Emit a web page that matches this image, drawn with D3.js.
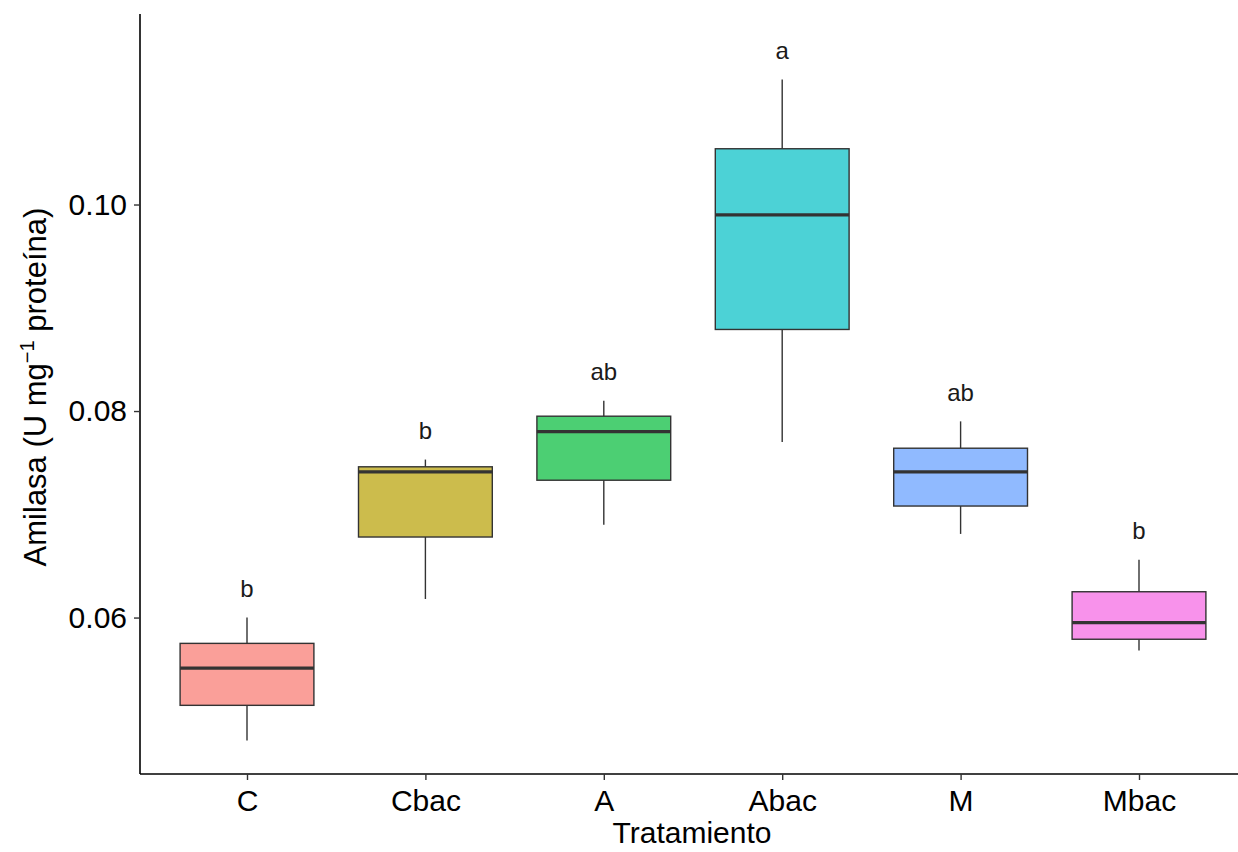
<!DOCTYPE html>
<html>
<head>
<meta charset="utf-8">
<script src="https://cdn.jsdelivr.net/npm/d3@7"></script>
<style>
  html, body { margin: 0; padding: 0; background: #ffffff; }
  svg { display: block; font-family: "Liberation Sans", Arial, sans-serif; }
</style>
</head>
<body>
<svg id="chart" width="1238" height="852"></svg>
<script>
// Treatments and their box-plot summaries (amylase activity, U mg^-1 protein)
const categories = ["C", "Cbac", "A", "Abac", "M", "Mbac"];
const whiskerLow = [0.0481, 0.0618, 0.0690, 0.0770, 0.0681, 0.0568];
const q1         = [0.0515, 0.0678, 0.0733, 0.0879, 0.0708, 0.0579];
const median     = [0.0551, 0.0741, 0.0780, 0.0990, 0.0741, 0.0595];
const q3         = [0.0575, 0.0746, 0.0795, 0.1054, 0.0764, 0.0625];
const whiskerHigh= [0.0600, 0.0753, 0.0810, 0.1121, 0.0790, 0.0656];
const letters    = ["b", "b", "ab", "a", "ab", "b"];
const fills      = ["#F8766D", "#B79F00", "#00BA38", "#00BFC4", "#619CFF", "#F564E3"];
const yTicks     = [0.06, 0.08, 0.10];

const data = categories.map((c, i) => ({
  cat: c, lo: whiskerLow[i], q1: q1[i], med: median[i], q3: q3[i],
  hi: whiskerHigh[i], letter: letters[i], fill: fills[i]
}));

const svg = d3.select("#chart");
const panel = { left: 140, top: 14, right: 1246, bottom: 774 };

// Discrete x: categories spaced evenly, 0.6 units of padding at each end
const x = d3.scalePoint()
  .domain(categories)
  .range([panel.left + 107, panel.right - 107]);
const step = x.step();
const boxW = step * 0.75;

const y = d3.scaleLinear()
  .domain([0.04485, 0.11845])
  .range([panel.bottom, panel.top]);

const g = svg.append("g");

// Boxes
const box = g.selectAll("g.box").data(data).join("g").attr("class", "box");

box.append("line")
  .attr("x1", d => x(d.cat)).attr("x2", d => x(d.cat))
  .attr("y1", d => y(d.hi)).attr("y2", d => y(d.q3))
  .attr("stroke", "#333333").attr("stroke-width", 1.4);
box.append("line")
  .attr("x1", d => x(d.cat)).attr("x2", d => x(d.cat))
  .attr("y1", d => y(d.q1)).attr("y2", d => y(d.lo))
  .attr("stroke", "#333333").attr("stroke-width", 1.4);

box.append("rect")
  .attr("x", d => x(d.cat) - boxW / 2)
  .attr("width", boxW)
  .attr("y", d => y(d.q3))
  .attr("height", d => y(d.q1) - y(d.q3))
  .attr("fill", d => d.fill)
  .attr("fill-opacity", 0.7)
  .attr("stroke", "#333333")
  .attr("stroke-width", 1.4);

box.append("line")
  .attr("x1", d => x(d.cat) - boxW / 2).attr("x2", d => x(d.cat) + boxW / 2)
  .attr("y1", d => y(d.med)).attr("y2", d => y(d.med))
  .attr("stroke", "#333333").attr("stroke-width", 3.2);

// Significance letters above the upper whiskers
box.append("text")
  .attr("x", d => x(d.cat))
  .attr("y", d => y(d.hi + 0.002))
  .attr("text-anchor", "middle")
  .attr("font-size", 24)
  .attr("fill", "#1a1a1a")
  .text(d => d.letter);

// Axes
const xAxis = svg.append("g")
  .attr("transform", `translate(0,${panel.bottom})`)
  .call(d3.axisBottom(x).tickSize(6).tickPadding(10));
const yAxis = svg.append("g")
  .attr("transform", `translate(${panel.left},0)`)
  .call(d3.axisLeft(y).tickValues(yTicks).tickFormat(d3.format(".2f")).tickSize(6).tickPadding(7));

[xAxis, yAxis].forEach(a => {
  a.select(".domain").attr("stroke", "#000").attr("stroke-width", 1.6);
  a.selectAll(".tick line").attr("stroke", "#333333").attr("stroke-width", 1.4);
  a.selectAll(".tick text").attr("fill", "#000").attr("font-size", 30)
    .attr("font-family", "'Liberation Sans', Arial, sans-serif");
});
// Domain lines without end caps
xAxis.select(".domain").attr("d", `M${panel.left},0H${1238}`);
yAxis.select(".domain").attr("d", `M0,${panel.top}V${panel.bottom}`);

// Axis titles
svg.append("text")
  .attr("x", 692).attr("y", 843)
  .attr("text-anchor", "middle")
  .attr("font-size", 30)
  .attr("fill", "#000")
  .text("Tratamiento");

const yt = svg.append("text")
  .attr("transform", `translate(46,${(panel.top + panel.bottom) / 2 - 7}) rotate(-90)`)
  .attr("text-anchor", "middle")
  .attr("font-size", 31)
  .attr("fill", "#000");
yt.append("tspan").text("Amilasa (U mg");
yt.append("tspan").attr("font-size", 20).attr("dy", -12).text("\u22121");
yt.append("tspan").attr("dy", 12).text(" proteína)");
</script>
</body>
</html>
